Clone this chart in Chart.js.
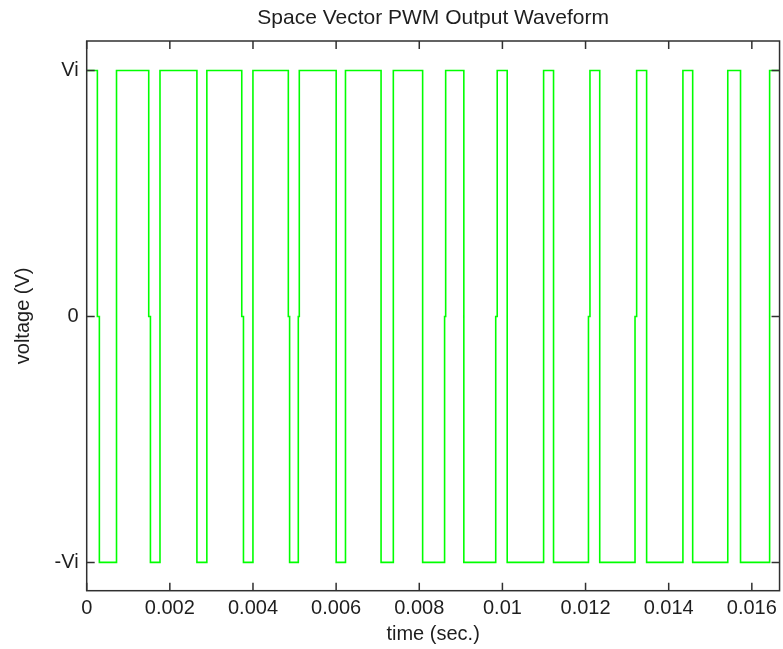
<!DOCTYPE html>
<html>
<head>
<meta charset="utf-8">
<script src="https://cdn.jsdelivr.net/npm/chart.js@4"></script>
<style>
  body { margin: 0; background: #ffffff; }
  canvas { display: block; }
</style>
</head>
<body>
<canvas id="myChart" width="783" height="649"></canvas>
<script>
// switching instants (sec.) and the level the output jumps to (1 = Vi, -1 = -Vi, 0 = zero vector)
const edgeTimes = [
    0.0002567, 0.0003046, 0.0007172, 0.001492, 0.001533, 0.001763,
    0.002651, 0.002890, 0.003730, 0.003771, 0.003999, 0.004850,
    0.004881, 0.005090, 0.005114, 0.006001, 0.006225, 0.007081,
    0.007376, 0.008081, 0.008609, 0.008635, 0.009072, 0.009839,
    0.009875, 0.010115, 0.010991, 0.011230, 0.012070, 0.012106,
    0.012341, 0.013190, 0.013229, 0.013469, 0.014342, 0.014577,
    0.015421, 0.015728, 0.016428
];
const edgeLevels = [
    0, -1, 1, 0, -1, 1,
    -1, 1, 0, -1, 1, 0,
    -1, 0, 1, -1, 1, -1,
    1, -1, 0, 1, -1, 0,
    1, -1, 1, -1, 0, 1,
    -1, 0, 1, -1, 1, -1,
    1, -1, 1
];
const startLevel = 1;
const endTime = 1 / 60;

const xTickValues = [0, 0.002, 0.004, 0.006, 0.008, 0.01, 0.012, 0.014, 0.016];
const xTickLabels = ['0', '0.002', '0.004', '0.006', '0.008', '0.01', '0.012', '0.014', '0.016'];
const yTickValues = [-1, 0, 1];
const yTickLabels = ['-Vi', '0', 'Vi'];

const textColor = "#1e1e1e";
const fontFamily = "'Liberation Sans', Arial, sans-serif";

// build the step waveform
let points = [{ x: 0, y: startLevel }];
for (let i = 0; i < edgeTimes.length; i++) {
    points.push({ x: edgeTimes[i], y: edgeLevels[i] });
}
points.push({ x: endTime, y: edgeLevels[edgeLevels.length - 1] });

// box round the plot with ticks pointing inwards (matlab style)
const boxPlugin = {
    id: 'boxPlugin',
    afterDatasetsDraw(chart) {
        const ctx = chart.ctx;
        const a = chart.chartArea;
        const xs = chart.scales.x;
        const ys = chart.scales.y;
        const len = 8;
        ctx.save();
        ctx.strokeStyle = "#303030";
        ctx.lineWidth = 1.5;
        ctx.strokeRect(a.left, a.top, a.right - a.left, a.bottom - a.top);
        ctx.beginPath();
        for (let i = 0; i < xTickValues.length; i++) {
            let px = xs.getPixelForValue(xTickValues[i]);
            ctx.moveTo(px, a.bottom);
            ctx.lineTo(px, a.bottom - len);
            ctx.moveTo(px, a.top);
            ctx.lineTo(px, a.top + len);
        }
        for (let i = 0; i < yTickValues.length; i++) {
            let py = ys.getPixelForValue(yTickValues[i]);
            ctx.moveTo(a.left, py);
            ctx.lineTo(a.left + len, py);
            ctx.moveTo(a.right, py);
            ctx.lineTo(a.right - len, py);
        }
        ctx.stroke();
        ctx.restore();
    }
};

const chart = new Chart("myChart", {
    type: "line",
    data: {
        datasets: [{
            data: points,
            stepped: true,
            borderColor: "#00ff00",
            borderWidth: 1.6,
            pointRadius: 0,
            fill: false
        }]
    },
    options: {
        responsive: false,
        animation: false,
        layout: {
            padding: { left: 0, right: 1.3, top: 0, bottom: 0 }
        },
        plugins: {
            legend: { display: false },
            tooltip: { enabled: false },
            title: {
                display: true,
                fullSize: false,
                text: 'Space Vector PWM Output Waveform',
                color: textColor,
                font: { family: fontFamily, size: 21, weight: 'normal', lineHeight: 1.2 },
                padding: { top: 6, bottom: 9.8 }
            }
        },
        scales: {
            x: {
                type: 'linear',
                min: 0,
                max: endTime,
                offset: false,
                grid: { display: false, drawTicks: false },
                border: { display: false },
                ticks: {
                    color: textColor,
                    padding: 6,
                    maxRotation: 0,
                    autoSkip: false,
                    font: { family: fontFamily, size: 20 },
                    callback: function (value) {
                        let idx = xTickValues.findIndex(v => Math.abs(v - value) < 1e-9);
                        return idx >= 0 ? xTickLabels[idx] : '';
                    }
                },
                afterBuildTicks: function (scale) {
                    scale.ticks = xTickValues.map(v => ({ value: v }));
                },
                afterFit: function (scale) {
                    scale.height = 58.3;
                },
                title: {
                    display: true,
                    text: 'time (sec.)',
                    color: textColor,
                    font: { family: fontFamily, size: 20, lineHeight: 1.2 },
                    padding: { top: 0, bottom: 3 }
                }
            },
            y: {
                min: -1.115,
                max: 1.12,
                grid: { display: false, drawTicks: false },
                border: { display: false },
                ticks: {
                    color: textColor,
                    padding: 8,
                    font: { family: fontFamily, size: 20 },
                    callback: function (value) {
                        let idx = yTickValues.indexOf(value);
                        return idx >= 0 ? yTickLabels[idx] : '';
                    }
                },
                afterBuildTicks: function (scale) {
                    scale.ticks = yTickValues.map(v => ({ value: v }));
                },
                afterFit: function (scale) {
                    scale.width = 86.7;
                },
                title: {
                    display: true,
                    text: 'voltage (V)',
                    color: textColor,
                    font: { family: fontFamily, size: 20, lineHeight: 1.2 },
                    padding: { top: 11, bottom: 0 }
                }
            }
        }
    },
    plugins: [boxPlugin]
});
</script>
</body>
</html>
